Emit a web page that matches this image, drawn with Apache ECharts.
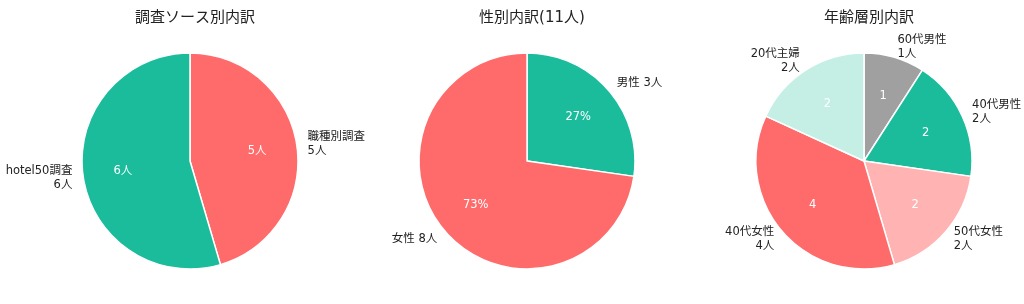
<!DOCTYPE html>
<html><head><meta charset="utf-8">
<script src="https://cdn.jsdelivr.net/npm/echarts@6/dist/echarts.min.js"></script>
<style>html,body{margin:0;padding:0;background:#fff}#c{width:1024px;height:304px}</style>
</head><body><div id="c"></div>
<script>
const titles = ['調査ソース別内訳', '性別内訳(11人)', '年齢層別内訳'];
const srcNames = ['職種別調査', 'hotel50調査'];
const srcValues = [5, 6];
const srcColors = ['#FF6B6B', '#1ABC9C'];
const genderNames = ['男性', '女性'];
const genderValues = [3, 8];
const genderColors = ['#1ABC9C', '#FF6B6B'];
const ageNames = ['60代男性', '40代男性', '50代女性', '40代女性', '20代主婦'];
const ageValues = [1, 2, 2, 4, 2];
const ageColors = ['#A0A0A0', '#1ABC9C', '#FFB3B3', '#FF6B6B', '#C5EFE5'];

const FONT = '"DejaVu Sans", "Noto Sans CJK JP", sans-serif';
const centersX = [190, 527, 864];
const cy = 161, R = 108;

function mk(names, values, colors) {
  return names.map((n, i) => ({ name: n, value: values[i], itemStyle: { color: colors[i] } }));
}

const charts = [
  { names: srcNames, values: srcValues, colors: srcColors,
    outer: p => p.name + '\n' + p.value + '人', inner: p => p.value + '人' },
  { names: genderNames, values: genderValues, colors: genderColors,
    outer: p => p.name + ' ' + p.value + '人', inner: p => Math.round(p.percent) + '%' },
  { names: ageNames, values: ageValues, colors: ageColors,
    outer: p => p.name + '\n' + p.value + '人', inner: p => String(p.value) }
];

const series = [];
const title = [];
charts.forEach((c, k) => {
  title.push({ text: titles[k], left: centersX[k], top: 6, textAlign: 'center',
    textStyle: { fontFamily: FONT, fontSize: 15, fontWeight: 'normal', color: '#222' } });
  series.push({
    type: 'pie', center: [centersX[k], cy], radius: [0, R], startAngle: 90, clockwise: true,
    avoidLabelOverlap: false, animation: false, silent: true,
    data: mk(c.names, c.values, c.colors),
    itemStyle: { borderColor: '#fff', borderWidth: 1.5 },
    label: { show: true, position: 'outside', formatter: c.outer, fontFamily: FONT, fontSize: 11.5,
      color: '#222', lineHeight: 14, distanceToLabelLine: 0 },
    labelLine: { show: false, length: R * 0.1, length2: 0 },
    emphasis: { disabled: true }
  });
  series.push({
    type: 'pie', center: [centersX[k], cy], radius: [0, R * 1.2], startAngle: 90, clockwise: true,
    avoidLabelOverlap: false, animation: false, silent: true,
    data: mk(c.names, c.values, c.colors.map(() => 'rgba(0,0,0,0)')),
    itemStyle: { borderWidth: 0 },
    label: { show: true, position: 'inside', formatter: c.inner, fontFamily: FONT, fontSize: 11.5,
      color: '#fff' },
    labelLine: { show: false },
    emphasis: { disabled: true }
  });
});

const chart = echarts.init(document.getElementById('c'), null, { renderer: 'canvas' });
chart.setOption({ backgroundColor: '#fff', animation: false, title, series });
</script></body></html>
